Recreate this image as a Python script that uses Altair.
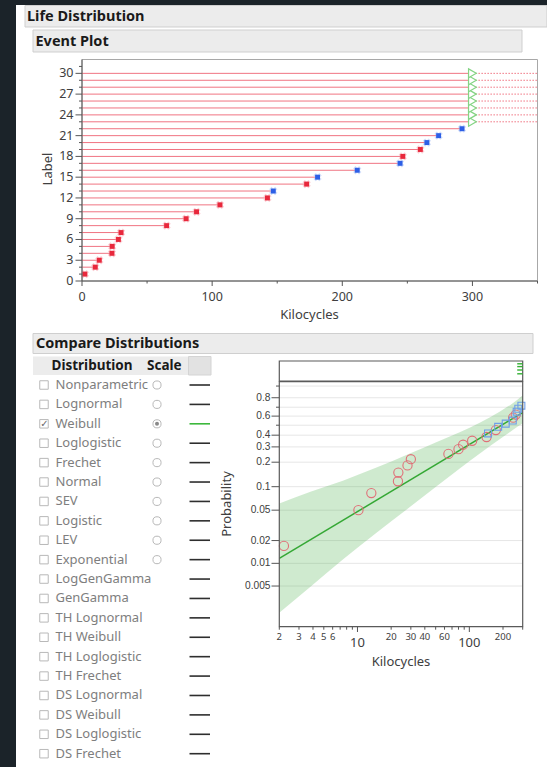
import math
import altair as alt
import pandas as pd

W, H = 547, 767
FONT = "Noto Sans"
AXC = "#555555"
LBC = "#404040"

# ---------------- data ----------------
event_rows = list(range(1, 31))
event_time = [2.2, 10.2, 13.3, 23.0, 23.2, 28.0, 30.0, 65.0, 80.0, 88.0,
              106.0, 142.5, 147.0, 172.6, 181.0, 211.5, 244.4, 246.5, 260.0, 265.0,
              274.0, 292.0, 300, 300, 300, 300, 300, 300, 300, 300]
event_type = (["A"] * 12 + ["B", "A", "B", "B", "B", "A", "A", "B", "B", "B"] + ["C"] * 8)
fail_prob = [0.017, 0.05, 0.083, 0.117, 0.15, 0.183, 0.217, 0.25, 0.283, 0.317, 0.35,
             0.383, 0.417, 0.45, 0.483, 0.517, 0.55, 0.583, 0.617, 0.65, 0.683, 0.717]

band_time = [2, 3.8, 7.4, 14.6, 29, 50, 81, 125, 188, 241, 300]
band_upper = [0.061, 0.086, 0.119, 0.171, 0.251, 0.335, 0.426, 0.530, 0.652, 0.739, 0.825]
band_lower = [0.0022, 0.0049, 0.0112, 0.025, 0.054, 0.099, 0.166, 0.255, 0.365, 0.445, 0.52]
fit_time = [2, 300]
fit_prob = [0.0116, 0.64]

profile_marks = [0.86, 0.72, 0.55, 0.36]

dist_names = ["Nonparametric", "Lognormal", "Weibull", "Loglogistic", "Frechet", "Normal",
              "SEV", "Logistic", "LEV", "Exponential", "LogGenGamma", "GenGamma",
              "TH Lognormal", "TH Weibull", "TH Loglogistic", "TH Frechet", "DS Lognormal",
              "DS Weibull", "DS Loglogistic", "DS Frechet"]
dist_has_scale = [True] * 10 + [False] * 10
dist_selected = "Weibull"

ev_x_ticks = [0, 50, 100, 150, 200, 250, 300, 350]
ev_y_ticks = list(range(0, 32))
pp_x_ticks = [2, 3, 4, 5, 6, 7, 8, 9, 10, 20, 30, 40, 50, 60, 70, 80, 90, 100, 200, 300]
pp_x_labels = [2, 3, 4, 5, 6, 10, 20, 30, 40, 60, 100, 200]
pp_y_ticks = [0.005, 0.01, 0.02, 0.05, 0.1, 0.2, 0.3, 0.4, 0.5, 0.6, 0.7, 0.8, 0.9]
pp_y_labels = [0.005, 0.01, 0.02, 0.05, 0.1, 0.2, 0.3, 0.4, 0.6, 0.8]
pp_p_bottom, pp_p_top = 0.00144, 0.928


def weib(p):
    return math.log(-math.log(1 - p))


WEIB = "log(-log(1 - datum.p))"
one = pd.DataFrame({"k": [0]})


def rect(x0, x1, y0, y1, fill, stroke=None):
    kw = dict(fill=fill)
    if stroke:
        kw.update(stroke=stroke, strokeWidth=1)
    return alt.Chart(one).mark_rect(**kw).encode(
        x=alt.value(x0), x2=alt.value(x1), y=alt.value(y0), y2=alt.value(y1))


def label(txt, x, y, size=14.5, weight="bold", color="#1a1a1a", align="left", angle=0):
    kw = dict(text=txt, align=align, baseline="middle", font=FONT, fontSize=size,
              fontWeight=weight, color=color)
    if angle:
        kw["angle"] = angle
    return alt.Chart(one).mark_text(**kw).encode(x=alt.value(x), y=alt.value(y))


def hline(x0, x1, y, color=AXC, width=1):
    return alt.Chart(one).mark_rule(color=color, strokeWidth=width).encode(
        x=alt.value(x0), x2=alt.value(x1), y=alt.value(y))


def vline(x, y0, y1, color=AXC, width=1):
    return alt.Chart(one).mark_rule(color=color, strokeWidth=width).encode(
        x=alt.value(x), y=alt.value(y0), y2=alt.value(y1))


layout = [
    rect(16, W, 5, H, "#ffffff"),
    rect(25, W, 5.5, 27, "#ececec", "#cfcfcf"),
    label("Life Distribution", 27, 16.5),
    rect(33, 522, 30, 52, "#ececec", "#cfcfcf"),
    label("Event Plot", 35.5, 41.5),
    rect(33, 533, 333.5, 353.5, "#ececec", "#cfcfcf"),
    label("Compare Distributions", 36, 343.5),
    rect(33, 188.5, 356.5, 375, "#ececec"),
    rect(188.5, 211, 356.5, 375, "#e2e2e2", "#d4d4d4"),
    label("Distribution", 51.5, 366, 13.5),
    label("Scale", 147, 366, 13.5),
]

# ---------------- event plot ----------------
ev_df = pd.DataFrame({"row": event_rows, "time": event_time, "kind": event_type})
EVX = alt.Scale(domain=[0, 350], range=[82, 537.5], nice=False, zero=False)
EVY = alt.Scale(domain=[0, 32], range=[281, 59.5], nice=False, zero=False)

evb = alt.Chart(ev_df).transform_calculate(x_start="0", x_end="350")
ev_lines = evb.mark_rule(color="#f07482", strokeWidth=1).encode(
    x=alt.X("x_start:Q", scale=EVX, axis=None), x2="time:Q",
    y=alt.Y("row:Q", scale=EVY, axis=None))
ev_dotted = evb.mark_rule(color="#f07482", strokeWidth=1, strokeDash=[1.5, 1.5]).transform_filter(
    "datum.kind == 'C'").encode(
    x=alt.X("time:Q", scale=EVX, axis=None), x2="x_end:Q",
    y=alt.Y("row:Q", scale=EVY, axis=None))
ev_halo = evb.mark_point(shape="cross", angle=45, filled=True, size=70, opacity=0.55).transform_filter(
    "datum.kind != 'C'").transform_calculate(
    col="datum.kind == 'A' ? '#f5a3ad' : '#a9c1f5'").encode(
    x=alt.X("time:Q", scale=EVX, axis=None), y=alt.Y("row:Q", scale=EVY, axis=None),
    color=alt.Color("col:N", scale=None))
ev_marks = evb.mark_square(size=24, opacity=1).transform_filter(
    "datum.kind != 'C'").transform_calculate(
    col="datum.kind == 'A' ? '#e8283c' : '#2d5fe6'").encode(
    x=alt.X("time:Q", scale=EVX, axis=None), y=alt.Y("row:Q", scale=EVY, axis=None),
    color=alt.Color("col:N", scale=None))
ev_cens = evb.mark_point(shape="triangle-right", filled=True, fill="#ffffff", stroke="#84d484",
                         strokeWidth=1.2, size=80, opacity=1).transform_filter(
    "datum.kind == 'C'").encode(
    x=alt.X("time:Q", scale=EVX, axis=None), y=alt.Y("row:Q", scale=EVY, axis=None))
ev_frame = alt.Chart(one).transform_calculate(x0="0", x1="350", y0="0", y1="32").mark_rect(
    filled=False, stroke="#a8a8a8", strokeWidth=1).encode(
    x=alt.X("x0:Q", scale=EVX, axis=None), x2="x1:Q",
    y=alt.Y("y0:Q", scale=EVY, axis=None), y2="y1:Q")

# event axes (drawn through the event scales)
evx_t = alt.Chart(pd.DataFrame({"v": ev_x_ticks})).transform_calculate(
    major="datum.v % 100 == 0", lab="format(datum.v, 'd')")
evx_tick_major = evx_t.transform_filter("datum.major").mark_rule(color=AXC).encode(
    x=alt.X("v:Q", scale=EVX, axis=None), y=alt.value(281), y2=alt.value(286))
evx_tick_minor = evx_t.transform_filter("!datum.major").mark_rule(color=AXC).encode(
    x=alt.X("v:Q", scale=EVX, axis=None), y=alt.value(281), y2=alt.value(283.5))
evx_lab = evx_t.transform_filter("datum.major").mark_text(
    font=FONT, fontSize=12.5, color=LBC, baseline="middle", align="center").encode(
    x=alt.X("v:Q", scale=EVX, axis=None), y=alt.value(296.5), text="lab:N")
evy_t = alt.Chart(pd.DataFrame({"v": ev_y_ticks})).transform_calculate(
    major="datum.v % 3 == 0", lab="format(datum.v, 'd')")
evy_tick_major = evy_t.transform_filter("datum.major").mark_rule(color=AXC).encode(
    y=alt.Y("v:Q", scale=EVY, axis=None), x=alt.value(75.5), x2=alt.value(82))
evy_tick_minor = evy_t.transform_filter("!datum.major").mark_rule(color=AXC).encode(
    y=alt.Y("v:Q", scale=EVY, axis=None), x=alt.value(79), x2=alt.value(82))
evy_lab = evy_t.transform_filter("datum.major").mark_text(
    font=FONT, fontSize=12.5, color=LBC, baseline="middle", align="right").encode(
    y=alt.Y("v:Q", scale=EVY, axis=None), x=alt.value(73.5), text="lab:N")

event = alt.layer(ev_frame, ev_lines, ev_dotted, ev_halo, ev_marks, ev_cens,
                  evx_tick_major, evx_tick_minor, evx_lab, evy_tick_major, evy_tick_minor, evy_lab)
event_axes_fixed = [
    hline(82, 537.5, 281), vline(82, 59.5, 281),
    label("Kilocycles", 309.5, 315, 13, "normal", LBC, "center"),
    label("Label", 47.5, 169, 13, "normal", LBC, "center", 270),
]

# ---------------- distribution table ----------------
tbl_df = pd.DataFrame({"dist": dist_names, "has_scale": dist_has_scale})
TY = alt.Scale(type="point", domain=dist_names, range=[385, 753.7], padding=0)
tb = alt.Chart(tbl_df)
ty = alt.Y("dist:N", scale=TY, axis=None)
t_boxes = tb.mark_square(filled=False, color="#9c9c9c", strokeWidth=1, size=72).encode(
    x=alt.value(44), y=ty)
t_check = tb.mark_text(text="✓", font="DejaVu Sans", fontSize=10, color="#6a6a6a").transform_filter(
    alt.datum.dist == dist_selected).encode(x=alt.value(44.5), y=ty)
t_names = tb.mark_text(align="left", baseline="middle", font=FONT, fontSize=13,
                       color="#7e7e7e").encode(x=alt.value(55.5), y=ty, text="dist:N")
t_radio = tb.mark_point(shape="circle", filled=False, color="#9c9c9c", strokeWidth=1,
                        size=66).transform_filter("datum.has_scale").encode(x=alt.value(157), y=ty)
t_dot = tb.mark_point(shape="circle", filled=True, color="#555555", size=16).transform_filter(
    alt.datum.dist == dist_selected).encode(x=alt.value(157), y=ty)
t_swatch = tb.mark_rule(strokeWidth=1.6).transform_calculate(
    col="datum.dist == '%s' ? '#3db83d' : '#2e2e2e'" % dist_selected).encode(
    x=alt.value(189.5), x2=alt.value(210), y=ty, color=alt.Color("col:N", scale=None))
table = alt.layer(t_boxes, t_check, t_names, t_radio, t_dot, t_swatch)

# ---------------- small profile strip above the probability plot ----------------
SPX = alt.Scale(type="log", domain=[2, 300], range=[279.3, 522.7], nice=False)
SPY = alt.Scale(domain=[0, 1], range=[381, 361], nice=False, zero=False)
sp_df = pd.DataFrame({"v": profile_marks})
sp_frame = alt.Chart(one).transform_calculate(x0="2", x1="300", y0="0", y1="1").mark_rect(
    filled=False, stroke="#5a5a5a", strokeWidth=1.2).encode(
    x=alt.X("x0:Q", scale=SPX, axis=None), x2="x1:Q",
    y=alt.Y("y0:Q", scale=SPY, axis=None), y2="y1:Q")
sp_marks = alt.Chart(sp_df).transform_calculate(x0="268", x1="300").mark_rule(
    color="#33b033", strokeWidth=1.4).encode(
    x=alt.X("x0:Q", scale=SPX, axis=None), x2="x1:Q",
    y=alt.Y("v:Q", scale=SPY, axis=None))
strip = alt.layer(sp_frame, sp_marks)

# ---------------- Weibull probability plot ----------------
PPX = alt.Scale(type="log", domain=[2, 300], range=[279.3, 522.7], nice=False)
PPY = alt.Scale(domain=[weib(pp_p_bottom), weib(pp_p_top)], range=[626.7, 381.7],
                nice=False, zero=False)

grid_df = pd.DataFrame({"p": pp_y_ticks})
band_df = pd.DataFrame({"t": band_time, "lo": band_lower, "hi": band_upper})
fit_df = pd.DataFrame({"t": fit_time, "p": fit_prob})
pp_df = pd.DataFrame({"t": event_time[:22], "p": fail_prob, "kind": event_type[:22]})

pp_grid = alt.Chart(grid_df).mark_rule(color="#e6e6e6", strokeWidth=1).transform_calculate(
    w=WEIB, x0="2", x1="300").encode(
    x=alt.X("x0:Q", scale=PPX, axis=None), x2="x1:Q",
    y=alt.Y("w:Q", scale=PPY, axis=None))
pp_band = alt.Chart(band_df).mark_area(color="#45ad45", opacity=0.26, interpolate="monotone").transform_calculate(
    wlo="log(-log(1 - datum.lo))", whi="log(-log(1 - datum.hi))").encode(
    x=alt.X("t:Q", scale=PPX, axis=None),
    y=alt.Y("wlo:Q", scale=PPY, axis=None), y2="whi:Q")
pp_fit = alt.Chart(fit_df).mark_line(color="#35a835", strokeWidth=1.5).transform_calculate(
    w=WEIB).encode(
    x=alt.X("t:Q", scale=PPX, axis=None), y=alt.Y("w:Q", scale=PPY, axis=None))
pp_red = alt.Chart(pp_df).mark_point(shape="circle", filled=False, color="#e07078", size=85,
                                     strokeWidth=1.1, opacity=1).transform_filter(
    "datum.kind == 'A'").transform_calculate(w=WEIB).encode(
    x=alt.X("t:Q", scale=PPX, axis=None), y=alt.Y("w:Q", scale=PPY, axis=None))
pp_blue = alt.Chart(pp_df).mark_point(shape="square", filled=False, color="#6e9ee8", size=48,
                                      strokeWidth=1.1, opacity=1).transform_filter(
    "datum.kind == 'B'").transform_calculate(w=WEIB).encode(
    x=alt.X("t:Q", scale=PPX, axis=None), y=alt.Y("w:Q", scale=PPY, axis=None))
pp_frame = alt.Chart(one).transform_calculate(
    x0="2", x1="300", y0="%r" % weib(pp_p_bottom), y1="%r" % weib(pp_p_top)).mark_rect(
    filled=False, stroke="#5a5a5a", strokeWidth=1.2).encode(
    x=alt.X("x0:Q", scale=PPX, axis=None), x2="x1:Q",
    y=alt.Y("y0:Q", scale=PPY, axis=None), y2="y1:Q")

# probability plot axes (through the plot scales)
ppx_t = alt.Chart(pd.DataFrame({"v": pp_x_ticks})).transform_calculate(
    dec="datum.v == 10 || datum.v == 100",
    show="indexof(%s, datum.v) >= 0" % str(pp_x_labels),
    lab="format(datum.v, 'd')")
ppx_tick_dec = ppx_t.transform_filter("datum.dec").mark_rule(color=AXC).encode(
    x=alt.X("v:Q", scale=PPX, axis=None), y=alt.value(626.7), y2=alt.value(632))
ppx_tick_min = ppx_t.transform_filter("!datum.dec").mark_rule(color=AXC).encode(
    x=alt.X("v:Q", scale=PPX, axis=None), y=alt.value(626.7), y2=alt.value(629.7))
ppx_lab_small = ppx_t.transform_filter("datum.show && !datum.dec").mark_text(
    font=FONT, fontSize=9.5, color=LBC, baseline="middle", align="center").encode(
    x=alt.X("v:Q", scale=PPX, axis=None), y=alt.value(636.5), text="lab:N")
ppx_lab_dec = ppx_t.transform_filter("datum.dec").mark_text(
    font=FONT, fontSize=13, color=LBC, baseline="middle", align="center").encode(
    x=alt.X("v:Q", scale=PPX, axis=None), y=alt.value(642.5), text="lab:N")
ppy_t = alt.Chart(pd.DataFrame({"p": pp_y_ticks})).transform_calculate(
    w=WEIB,
    show="indexof(%s, round(datum.p * 1000)) >= 0" % str([int(round(v * 1000)) for v in pp_y_labels]),
    lab="format(datum.p, '~g')")
ppy_tick_major = ppy_t.transform_filter("datum.show").mark_rule(color=AXC).encode(
    y=alt.Y("w:Q", scale=PPY, axis=None), x=alt.value(271.5), x2=alt.value(279.3))
ppy_tick_minor = ppy_t.transform_filter("!datum.show").mark_rule(color=AXC).encode(
    y=alt.Y("w:Q", scale=PPY, axis=None), x=alt.value(276), x2=alt.value(279.3))
ppy_lab = ppy_t.transform_filter("datum.show").mark_text(
    font="Liberation Sans", fontSize=10.2, color=LBC, baseline="middle", align="right").encode(
    y=alt.Y("w:Q", scale=PPY, axis=None), x=alt.value(270.5), text="lab:N")

prob = alt.layer(pp_grid, pp_band, pp_fit, pp_red, pp_blue, pp_frame,
                 ppx_tick_dec, ppx_tick_min, ppx_lab_small, ppx_lab_dec,
                 ppy_tick_major, ppy_tick_minor, ppy_lab)
prob_axes_fixed = [
    label("Kilocycles", 401, 661.5, 13, "normal", LBC, "center"),
    label("Probability", 227, 504, 13, "normal", LBC, "center", 270),
]

chart = alt.layer(*layout, event, *event_axes_fixed, table, strip, prob, *prob_axes_fixed).resolve_scale(
    x="independent", y="independent"
).properties(
    width=W, height=H, autosize=alt.AutoSizeParams(type="none"), padding=0
).configure(background="#1b2329").configure_view(stroke=None)

chart.save("out.html", embed_options={"renderer": "svg", "actions": False})
